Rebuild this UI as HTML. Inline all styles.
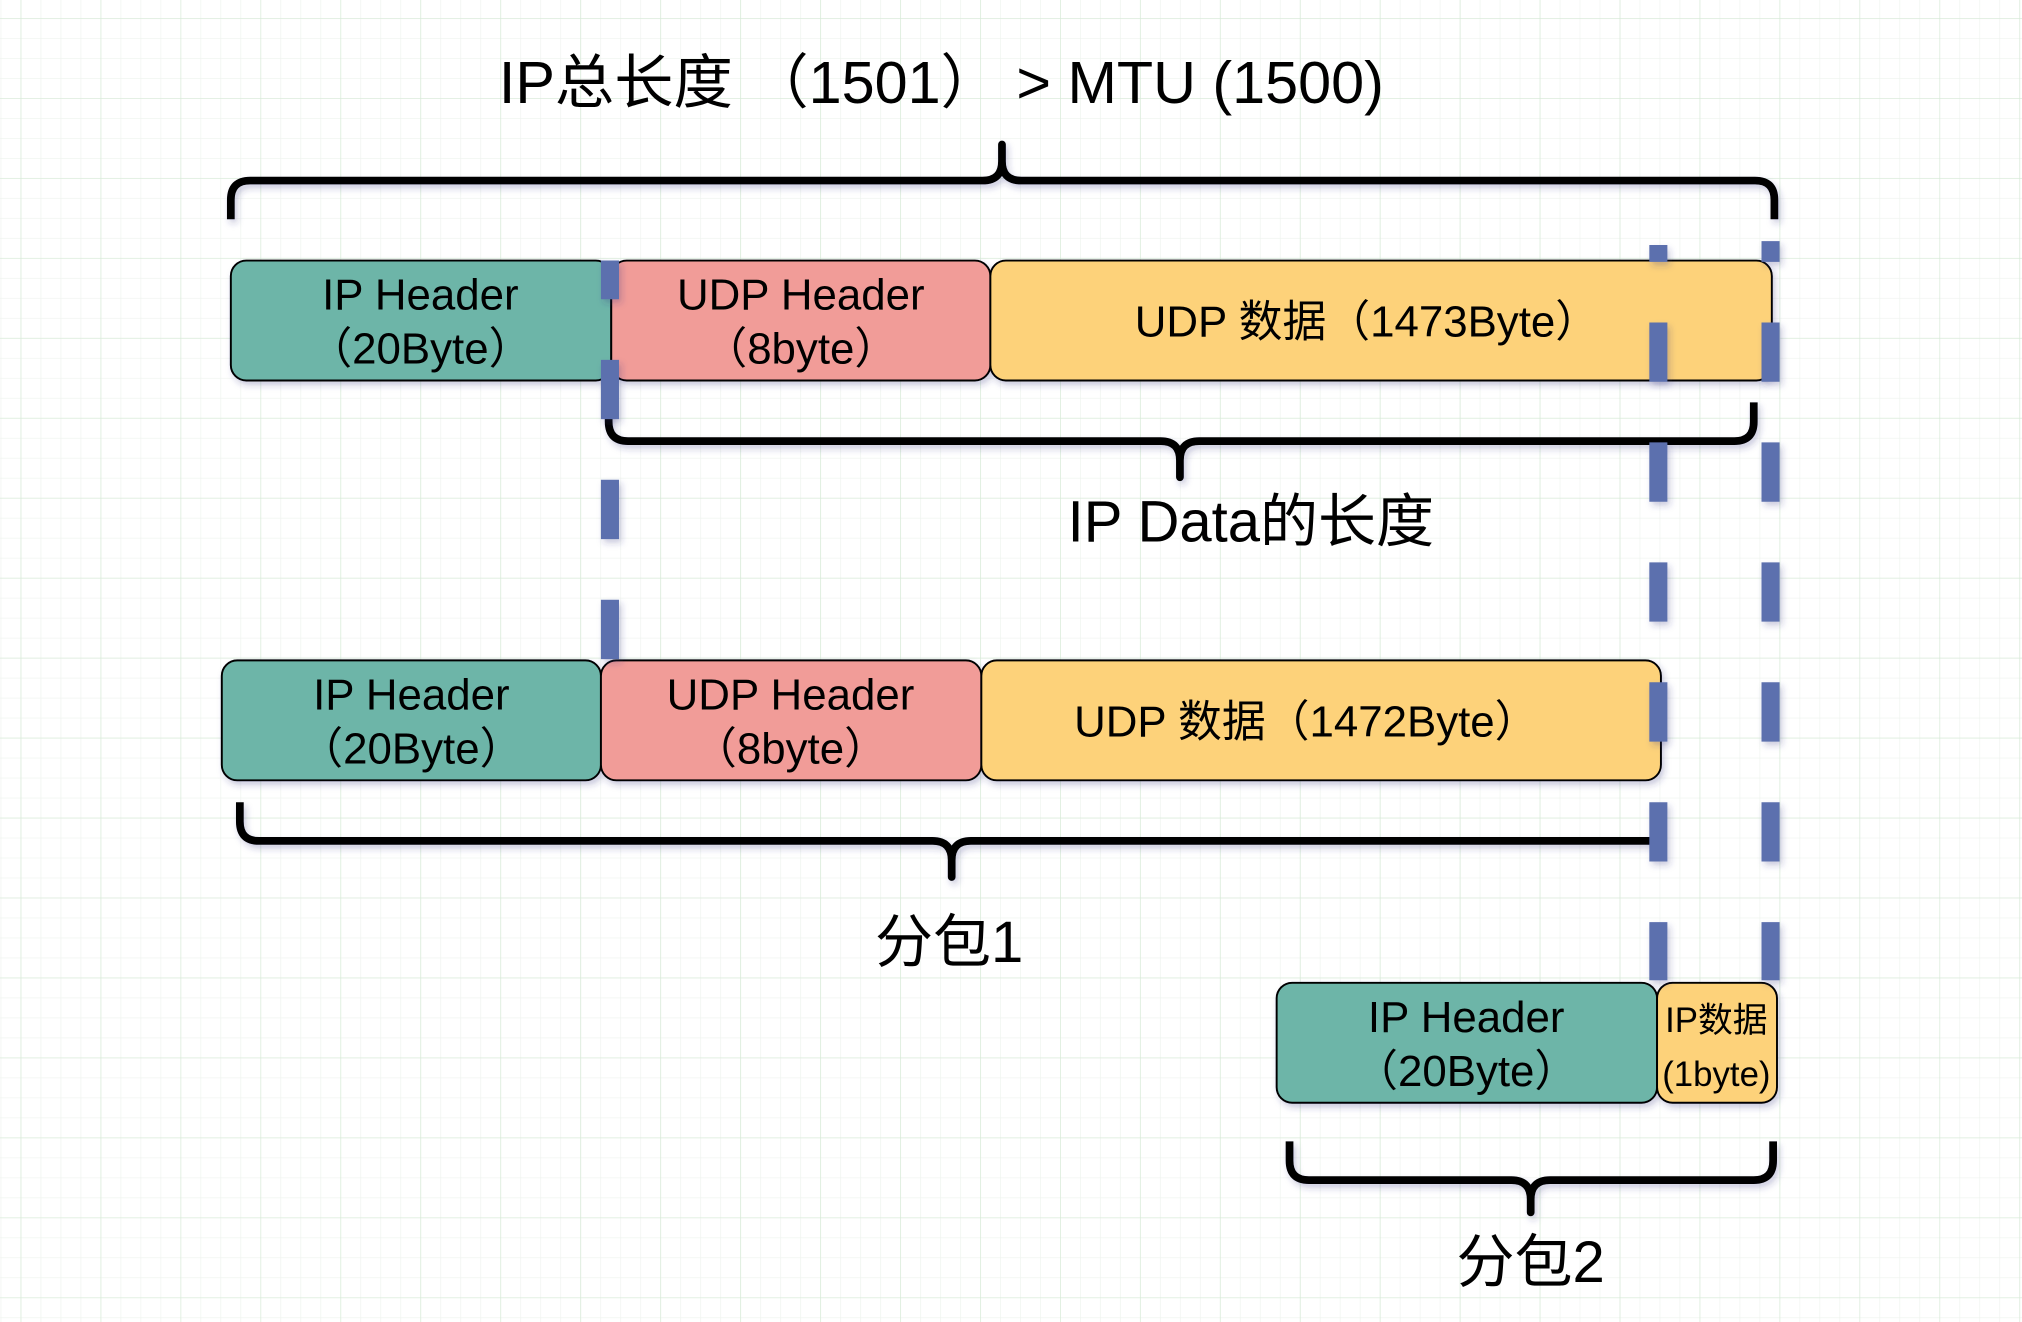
<!DOCTYPE html>
<html><head><meta charset="utf-8"><style>
html,body{margin:0;padding:0;background:#fff;}
svg{display:block;}
text{font-family:"Liberation Sans","Noto Sans CJK SC",sans-serif;fill:#000;}
</style></head><body>
<svg width="2022" height="1322" viewBox="0 0 1568 1025" preserveAspectRatio="none" xmlns="http://www.w3.org/2000/svg">
<defs>
<pattern id="minor" x="16" y="14" width="15.5" height="15.5" patternUnits="userSpaceOnUse">
<path d="M0 0H15.5M0 0V15.5" stroke="#eef3ee" stroke-width="1" fill="none"/>
</pattern>
<pattern id="major" x="16" y="14" width="62" height="62" patternUnits="userSpaceOnUse">
<path d="M0 0H62M0 0V62" stroke="#d6ead6" stroke-width="1" fill="none"/>
</pattern>
<filter id="sh" x="-10%" y="-10%" width="130%" height="140%">
<feDropShadow dx="2" dy="3" stdDeviation="2.5" flood-color="#2a2f7a" flood-opacity="0.25"/>
</filter>
</defs>
<rect width="1568" height="1025" fill="#fff"/>
<rect width="1568" height="1025" fill="url(#minor)"/>
<rect width="1568" height="1025" fill="url(#major)"/>

<text x="730" y="80" font-size="46" text-anchor="middle">IP总长度 （1501） &gt; MTU (1500)</text>

<g fill="none" stroke="#000" stroke-width="6" filter="url(#sh)" stroke-linejoin="round">
<path d="M179 170V155Q179 140 194 140H762Q777 140 777 125V112V125Q777 140 792 140H1361Q1376 140 1376 155V170"/>
<path d="M472 312V327Q472 342 487 342H900Q915 342 915 357V370V357Q915 342 930 342H1345Q1360 342 1360 327V312"/>
<path d="M186 622V637Q186 652 201 652H723Q738 652 738 667V680V667Q738 652 753 652H1280"/>
<path d="M1000 885V900Q1000 915 1015 915H1172Q1187 915 1187 930V940V930Q1187 915 1202 915H1360Q1375 915 1375 900V885"/>
</g>

<g stroke="#000" stroke-width="1.5" filter="url(#sh)">
<rect x="179" y="202" width="295" height="93" rx="12" fill="#6db5a8"/>
<rect x="474" y="202" width="294" height="93" rx="12" fill="#f19c98"/>
<rect x="768" y="202" width="606" height="93" rx="12" fill="#fdd27a"/>
<rect x="172" y="512" width="294" height="93" rx="12" fill="#6db5a8"/>
<rect x="466" y="512" width="295" height="93" rx="12" fill="#f19c98"/>
<rect x="761" y="512" width="527" height="93" rx="12" fill="#fdd27a"/>
<rect x="990" y="762" width="295" height="93" rx="12" fill="#6db5a8"/>
<rect x="1285" y="762" width="93" height="93" rx="12" fill="#fdd27a"/>
</g>

<g font-size="34" text-anchor="middle">
<text x="326" y="240">IP Header</text><text x="326" y="282">（20Byte）</text>
<text x="621" y="240">UDP Header</text><text x="621" y="282">（8byte）</text>
<text x="1060" y="261">UDP 数据（1473Byte）</text>
<text x="319" y="550">IP Header</text><text x="319" y="592">（20Byte）</text>
<text x="613" y="550">UDP Header</text><text x="613" y="592">（8byte）</text>
<text x="1013" y="571">UDP 数据（1472Byte）</text>
<text x="1137" y="800">IP Header</text><text x="1137" y="842">（20Byte）</text>
</g>
<g font-size="27" text-anchor="middle">
<text x="1331" y="800">IP数据</text>
<text x="1331" y="842">(1byte)</text>
</g>

<g fill="none" stroke="#5b6fae" stroke-width="14" filter="url(#sh)">
<path d="M473 202V512" stroke-dasharray="46 47" stroke-dashoffset="16"/>
<path d="M1286 190V760" stroke-dasharray="46 47" stroke-dashoffset="33"/>
<path d="M1373 187V760" stroke-dasharray="46 47" stroke-dashoffset="30"/>
</g>

<g font-size="45" text-anchor="middle">
<text x="970" y="420">IP Data的长度</text>
<text x="736" y="746">分包1</text>
<text x="1187" y="994">分包2</text>
</g>
</svg>
</body></html>
